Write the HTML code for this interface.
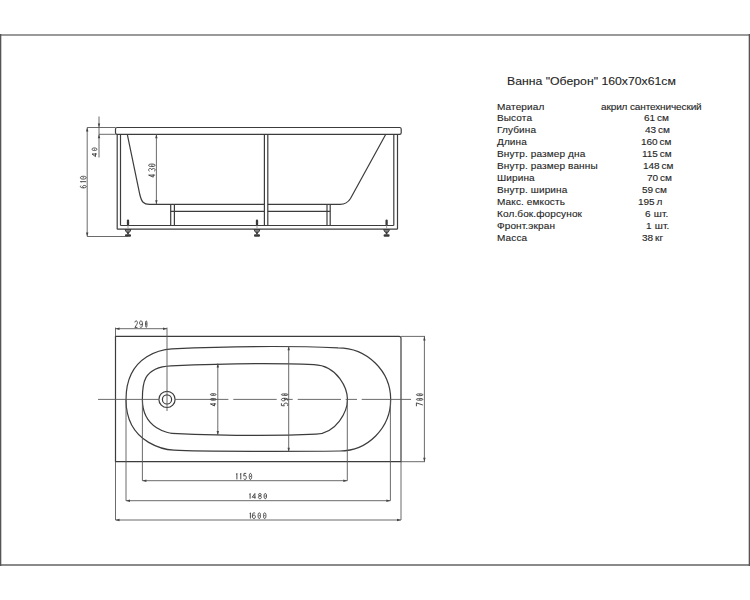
<!DOCTYPE html>
<html><head><meta charset="utf-8"><style>
html,body{margin:0;padding:0;background:#fff;width:750px;height:600px;overflow:hidden}
svg{position:absolute;left:0;top:0}
.o{fill:none;stroke:#3c3c3c;stroke-width:1.2}
.d{fill:none;stroke:#5a5a5a;stroke-width:0.9}
.ar{fill:#444;stroke:none}
.ft{fill:#3a3a3a;stroke:none}
.fo{fill:none;stroke:#3a3a3a;stroke-width:1}
.dt{fill:none;stroke:#444;stroke-width:0.95}
.t{position:absolute;font-family:"Liberation Sans",sans-serif;color:#1c1c1c;white-space:nowrap;line-height:1;-webkit-text-stroke:0.12px #333}
.r{font-size:8.8px;transform:scaleX(1.14);transform-origin:0 0}
.l{letter-spacing:0.1px}
</style></head><body>
<svg width="750" height="600" viewBox="0 0 750 600">
<rect x="0" y="34" width="750" height="2" fill="#9a9a9a"/>
<rect x="0" y="564" width="750" height="2" fill="#8a8a8a"/>
<rect x="0" y="34" width="1.3" height="532" fill="#555"/>
<rect x="748.7" y="34" width="1.3" height="532" fill="#555"/>
<rect class="o" x="115.5" y="127.5" width="285.7" height="6.800000000000011" rx="1.6"/>
<line class="o" x1="117.2" y1="134.3" x2="117.2" y2="229.2"/>
<line class="o" x1="120.5" y1="134.3" x2="120.5" y2="225.5"/>
<line class="o" x1="393.8" y1="134.3" x2="393.8" y2="225.5"/>
<line class="o" x1="397.5" y1="134.3" x2="397.5" y2="229.2"/>
<line class="o" x1="117.2" y1="229.2" x2="397.5" y2="229.2"/>
<line class="o" x1="120.5" y1="225.5" x2="393.8" y2="225.5"/>
<line class="o" x1="264.4" y1="134.3" x2="264.4" y2="225.5"/>
<line class="o" x1="267.8" y1="134.3" x2="267.8" y2="225.5"/>
<line class="o" x1="170.7" y1="204.3" x2="170.7" y2="225.5"/>
<line class="o" x1="174.4" y1="204.3" x2="174.4" y2="225.5"/>
<line class="o" x1="327" y1="204.3" x2="327" y2="225.5"/>
<line class="o" x1="330.2" y1="204.3" x2="330.2" y2="225.5"/>
<line class="o" x1="170.7" y1="211.4" x2="264.4" y2="211.4"/>
<line class="o" x1="267.8" y1="211.4" x2="330.2" y2="211.4"/>
<path class="o" d="M127.3,134.3 L139.8,194.5 C141.6,202 143.5,204.3 149.5,204.3 L264.4,204.3"/>
<path class="o" d="M385.8,134.3 L350.5,198.5 Q347,204.3 340,204.3 L267.8,204.3"/>
<rect class="ft" x="126.85" y="219.6" width="2.3" height="6" rx="1.1"/>
<line x1="128.0" y1="225.5" x2="128.0" y2="229.2" stroke="#999" stroke-width="0.9"/>
<path fill="#8a8a8a" stroke="#333" stroke-width="0.9" d="M125.0,229.6 L131.0,229.6 L129.6,232.2 L126.4,232.2 Z"/>
<rect class="ft" x="127.1" y="232" width="1.8" height="2.4"/>
<rect class="ft" x="125.0" y="234.2" width="6" height="2.6" rx="1"/>
<rect class="ft" x="255.85" y="219.6" width="2.3" height="6" rx="1.1"/>
<line x1="257.0" y1="225.5" x2="257.0" y2="229.2" stroke="#999" stroke-width="0.9"/>
<path fill="#8a8a8a" stroke="#333" stroke-width="0.9" d="M254.0,229.6 L260.0,229.6 L258.6,232.2 L255.4,232.2 Z"/>
<rect class="ft" x="256.1" y="232" width="1.8" height="2.4"/>
<rect class="ft" x="254.0" y="234.2" width="6" height="2.6" rx="1"/>
<rect class="ft" x="385.45000000000005" y="219.6" width="2.3" height="6" rx="1.1"/>
<line x1="386.6" y1="225.5" x2="386.6" y2="229.2" stroke="#999" stroke-width="0.9"/>
<path fill="#8a8a8a" stroke="#333" stroke-width="0.9" d="M383.6,229.6 L389.6,229.6 L388.20000000000005,232.2 L385.0,232.2 Z"/>
<rect class="ft" x="385.70000000000005" y="232" width="1.8" height="2.4"/>
<rect class="ft" x="383.6" y="234.2" width="6" height="2.6" rx="1"/>
<line class="d" x1="87.2" y1="127.5" x2="115.5" y2="127.5"/>
<line class="d" x1="99" y1="134.3" x2="115.5" y2="134.3"/>
<line class="d" x1="99" y1="116.5" x2="99" y2="157.5"/>
<polygon class="ar" points="99,127.5 97.8,123.5 100.2,123.5"/>
<polygon class="ar" points="99,134.3 97.8,138.3 100.2,138.3"/>
<line class="d" x1="87.2" y1="127.5" x2="87.2" y2="236.5"/>
<polygon class="ar" points="87.2,127.5 86.0,131.5 88.4,131.5"/>
<polygon class="ar" points="87.2,236.5 86.0,232.5 88.4,232.5"/>
<line class="d" x1="87.2" y1="236.5" x2="128" y2="236.5"/>
<line class="d" x1="156.4" y1="134.3" x2="156.4" y2="204.3"/>
<polygon class="ar" points="156.4,134.3 155.20000000000002,138.3 157.6,138.3"/>
<polygon class="ar" points="156.4,204.3 155.20000000000002,200.3 157.6,200.3"/>
<path class="o" d="M115.5,336.4 L399,336.4 Q401,336.4 401,338.4 L401,461.7 L115.5,461.7 Z"/>
<path class="o" d="M126,399.5 C126,352.6 166.25,349.12 172,348.8 C226,346.5 285,345.6 338,347.8 C367.1,347.8 390.7,371.0 390.7,399.6 C390.7,428.2 367.5,451.0 340,451.0 C300,451.5 201,451.7 174,450.2 C170.4,450.0 126,446.4 126,399.5 Z"/>
<path class="o" d="M142.4,399.5 C142.4,386.02 141.685,367.1 171,365.8 C216,363.8 269,362.6 314,364.6 C338.29,365.68 347.5,389.1 347.5,399.6 C347.5,411.71 336.475,433.29 316,434.2 C271,436.2 217,435.3 172,433.3 C170.52,433.23 142.4,429.92 142.4,399.5 Z"/>
<circle class="o" cx="167" cy="399.4" r="8.1"/>
<circle class="o" cx="167" cy="399.4" r="4.6"/>
<line class="d" x1="98" y1="399.4" x2="158.8" y2="399.4"/>
<line class="d" x1="175.2" y1="399.4" x2="228.4" y2="399.4"/>
<line class="d" x1="233.3" y1="399.4" x2="276.7" y2="399.4"/>
<line class="d" x1="284" y1="399.4" x2="292.7" y2="399.4"/>
<line class="d" x1="297.7" y1="399.4" x2="341" y2="399.4"/>
<line class="d" x1="345.7" y1="399.4" x2="357" y2="399.4"/>
<line class="d" x1="361.7" y1="399.4" x2="411" y2="399.4"/>
<line class="d" x1="115.5" y1="327.6" x2="115.5" y2="336.4"/>
<line class="d" x1="167" y1="327.6" x2="167" y2="411"/>
<line class="d" x1="115.5" y1="328.7" x2="167" y2="328.7"/>
<polygon class="ar" points="115.5,328.7 119.5,327.5 119.5,329.9"/>
<polygon class="ar" points="167,328.7 163,327.5 163,329.9"/>
<line class="d" x1="217.8" y1="363.5" x2="217.8" y2="434.9"/>
<polygon class="ar" points="217.8,363.5 216.60000000000002,367.5 219.0,367.5"/>
<polygon class="ar" points="217.8,434.9 216.60000000000002,430.9 219.0,430.9"/>
<line class="d" x1="288.7" y1="346.2" x2="288.7" y2="451.7"/>
<polygon class="ar" points="288.7,346.2 287.5,350.2 289.9,350.2"/>
<polygon class="ar" points="288.7,451.7 287.5,447.7 289.9,447.7"/>
<line class="d" x1="401" y1="336.4" x2="425" y2="336.4"/>
<line class="d" x1="401" y1="461.7" x2="425" y2="461.7"/>
<line class="d" x1="424.4" y1="336.4" x2="424.4" y2="461.7"/>
<polygon class="ar" points="424.4,336.4 423.2,340.4 425.59999999999997,340.4"/>
<polygon class="ar" points="424.4,461.7 423.2,457.7 425.59999999999997,457.7"/>
<line class="d" x1="142.4" y1="399.4" x2="142.4" y2="480.7"/>
<line class="d" x1="347.3" y1="399.4" x2="347.3" y2="480.7"/>
<line class="d" x1="142.4" y1="480.7" x2="347.3" y2="480.7"/>
<polygon class="ar" points="142.4,480.7 146.4,479.5 146.4,481.9"/>
<polygon class="ar" points="347.3,480.7 343.3,479.5 343.3,481.9"/>
<line class="d" x1="126" y1="399.4" x2="126" y2="500.7"/>
<line class="d" x1="390.4" y1="399.4" x2="390.4" y2="500.7"/>
<line class="d" x1="126" y1="500.7" x2="390.4" y2="500.7"/>
<polygon class="ar" points="126,500.7 130,499.5 130,501.9"/>
<polygon class="ar" points="390.4,500.7 386.4,499.5 386.4,501.9"/>
<line class="d" x1="115.5" y1="461.7" x2="115.5" y2="520"/>
<line class="d" x1="401" y1="461.7" x2="401" y2="520"/>
<line class="d" x1="115.5" y1="520" x2="401" y2="520"/>
<polygon class="ar" points="115.5,520 119.5,518.8 119.5,521.2"/>
<polygon class="ar" points="401,520 397,518.8 397,521.2"/>
<g class="dt"><path vector-effect="non-scaling-stroke" transform="translate(134.80,320.90) scale(0.675,0.929)" d="M0.1,1.6 C0.2,0.6 1,0 2,0 C3.1,0 3.9,0.7 3.9,1.8 C3.9,3 2.8,4 0.1,7 L3.9,7"/><path vector-effect="non-scaling-stroke" transform="translate(139.50,320.90) scale(0.750,0.929)" d="M0.4,6.4 C0.8,6.8 1.4,7 2,7 C3.3,7 3.9,5.5 3.9,3.2 C3.9,1.2 3.3,0 2,0 C0.8,0 0.1,0.9 0.1,2.2 C0.1,3.5 0.8,4.3 2,4.3 C3,4.3 3.6,3.7 3.9,2.8"/><path vector-effect="non-scaling-stroke" transform="translate(145.50,320.90) scale(0.375,0.929)" d="M2,0 C0.7,0 0.1,1.5 0.1,3.5 C0.1,5.5 0.7,7 2,7 C3.3,7 3.9,5.5 3.9,3.5 C3.9,1.5 3.3,0 2,0 Z M2,2.9 L2,4.1"/></g>
<g class="dt"><path vector-effect="non-scaling-stroke" transform="translate(236.50,473.40) scale(0.400,0.857)" d="M0,1.4 L1,0 L1,7"/><path vector-effect="non-scaling-stroke" transform="translate(240.40,473.40) scale(0.400,0.857)" d="M0,1.4 L1,0 L1,7"/><path vector-effect="non-scaling-stroke" transform="translate(243.60,473.40) scale(0.700,0.857)" d="M3.7,0 L0.6,0 L0.3,3.2 C0.8,2.8 1.4,2.6 2,2.6 C3.2,2.6 3.9,3.5 3.9,4.8 C3.9,6.1 3.2,7 2,7 C1.2,7 0.5,6.7 0.1,6.2"/><path vector-effect="non-scaling-stroke" transform="translate(249.20,473.40) scale(0.625,0.857)" d="M2,0 C0.7,0 0.1,1.5 0.1,3.5 C0.1,5.5 0.7,7 2,7 C3.3,7 3.9,5.5 3.9,3.5 C3.9,1.5 3.3,0 2,0 Z M2,2.9 L2,4.1"/></g>
<g class="dt"><path vector-effect="non-scaling-stroke" transform="translate(249.70,493.50) scale(0.400,0.743)" d="M0,1.4 L1,0 L1,7"/><path vector-effect="non-scaling-stroke" transform="translate(252.10,493.50) scale(0.925,0.743)" d="M3,7 L3,0 L0.1,5 L3.9,5"/><path vector-effect="non-scaling-stroke" transform="translate(258.30,493.50) scale(0.800,0.743)" d="M2,3.3 C0.9,3.3 0.3,2.6 0.3,1.7 C0.3,0.7 1,0 2,0 C3,0 3.7,0.7 3.7,1.7 C3.7,2.6 3.1,3.3 2,3.3 C0.8,3.3 0.1,4.1 0.1,5.1 C0.1,6.2 0.9,7 2,7 C3.1,7 3.9,6.2 3.9,5.1 C3.9,4.1 3.2,3.3 2,3.3 Z"/><path vector-effect="non-scaling-stroke" transform="translate(264.00,493.50) scale(0.650,0.743)" d="M2,0 C0.7,0 0.1,1.5 0.1,3.5 C0.1,5.5 0.7,7 2,7 C3.3,7 3.9,5.5 3.9,3.5 C3.9,1.5 3.3,0 2,0 Z M2,2.9 L2,4.1"/></g>
<g class="dt"><path vector-effect="non-scaling-stroke" transform="translate(250.00,512.80) scale(0.400,0.814)" d="M0,1.4 L1,0 L1,7"/><path vector-effect="non-scaling-stroke" transform="translate(252.30,512.80) scale(0.800,0.814)" d="M3.6,0.6 C3.2,0.2 2.6,0 2,0 C0.7,0 0.1,1.5 0.1,3.8 C0.1,5.8 0.7,7 2,7 C3.2,7 3.9,6.1 3.9,4.8 C3.9,3.5 3.2,2.7 2,2.7 C1,2.7 0.4,3.3 0.1,4.2"/><path vector-effect="non-scaling-stroke" transform="translate(258.00,512.80) scale(0.650,0.814)" d="M2,0 C0.7,0 0.1,1.5 0.1,3.5 C0.1,5.5 0.7,7 2,7 C3.3,7 3.9,5.5 3.9,3.5 C3.9,1.5 3.3,0 2,0 Z M2,2.9 L2,4.1"/><path vector-effect="non-scaling-stroke" transform="translate(263.40,512.80) scale(0.650,0.814)" d="M2,0 C0.7,0 0.1,1.5 0.1,3.5 C0.1,5.5 0.7,7 2,7 C3.3,7 3.9,5.5 3.9,3.5 C3.9,1.5 3.3,0 2,0 Z M2,2.9 L2,4.1"/></g>
<g class="dt"><path vector-effect="non-scaling-stroke" transform="matrix(0,-1,1,0,92.00,156.70) scale(0.900,0.700)" d="M3,7 L3,0 L0.1,5 L3.9,5"/><path vector-effect="non-scaling-stroke" transform="matrix(0,-1,1,0,92.00,150.60) scale(0.675,0.700)" d="M2,0 C0.7,0 0.1,1.5 0.1,3.5 C0.1,5.5 0.7,7 2,7 C3.3,7 3.9,5.5 3.9,3.5 C3.9,1.5 3.3,0 2,0 Z M2,2.9 L2,4.1"/></g>
<g class="dt"><path vector-effect="non-scaling-stroke" transform="matrix(0,-1,1,0,80.40,187.90) scale(0.625,0.829)" d="M3.6,0.6 C3.2,0.2 2.6,0 2,0 C0.7,0 0.1,1.5 0.1,3.8 C0.1,5.8 0.7,7 2,7 C3.2,7 3.9,6.1 3.9,4.8 C3.9,3.5 3.2,2.7 2,2.7 C1,2.7 0.4,3.3 0.1,4.2"/><path vector-effect="non-scaling-stroke" transform="matrix(0,-1,1,0,80.40,182.05) scale(0.400,0.829)" d="M0,1.4 L1,0 L1,7"/><path vector-effect="non-scaling-stroke" transform="matrix(0,-1,1,0,80.40,179.20) scale(0.750,0.829)" d="M2,0 C0.7,0 0.1,1.5 0.1,3.5 C0.1,5.5 0.7,7 2,7 C3.3,7 3.9,5.5 3.9,3.5 C3.9,1.5 3.3,0 2,0 Z M2,2.9 L2,4.1"/></g>
<g class="dt"><path vector-effect="non-scaling-stroke" transform="matrix(0,-1,1,0,148.60,177.20) scale(0.700,0.929)" d="M3,7 L3,0 L0.1,5 L3.9,5"/><path vector-effect="non-scaling-stroke" transform="matrix(0,-1,1,0,148.60,171.35) scale(0.738,0.929)" d="M0.1,0.9 C0.5,0.3 1.2,0 2,0 C3.2,0 3.9,0.7 3.9,1.7 C3.9,2.7 3.1,3.4 1.8,3.4 C3.2,3.4 3.9,4.2 3.9,5.2 C3.9,6.3 3.1,7 2,7 C1.2,7 0.5,6.7 0.1,6.1"/><path vector-effect="non-scaling-stroke" transform="matrix(0,-1,1,0,148.60,166.60) scale(0.650,0.929)" d="M2,0 C0.7,0 0.1,1.5 0.1,3.5 C0.1,5.5 0.7,7 2,7 C3.3,7 3.9,5.5 3.9,3.5 C3.9,1.5 3.3,0 2,0 Z M2,2.9 L2,4.1"/></g>
<g class="dt"><path vector-effect="non-scaling-stroke" transform="matrix(0,-1,1,0,210.40,406.10) scale(0.725,0.814)" d="M3,7 L3,0 L0.1,5 L3.9,5"/><path vector-effect="non-scaling-stroke" transform="matrix(0,-1,1,0,210.40,400.30) scale(0.475,0.814)" d="M2,0 C0.7,0 0.1,1.5 0.1,3.5 C0.1,5.5 0.7,7 2,7 C3.3,7 3.9,5.5 3.9,3.5 C3.9,1.5 3.3,0 2,0 Z M2,2.9 L2,4.1"/><path vector-effect="non-scaling-stroke" transform="matrix(0,-1,1,0,210.40,395.50) scale(0.475,0.814)" d="M2,0 C0.7,0 0.1,1.5 0.1,3.5 C0.1,5.5 0.7,7 2,7 C3.3,7 3.9,5.5 3.9,3.5 C3.9,1.5 3.3,0 2,0 Z M2,2.9 L2,4.1"/></g>
<g class="dt"><path vector-effect="non-scaling-stroke" transform="matrix(0,-1,1,0,281.40,406.10) scale(0.775,0.929)" d="M3.7,0 L0.6,0 L0.3,3.2 C0.8,2.8 1.4,2.6 2,2.6 C3.2,2.6 3.9,3.5 3.9,4.8 C3.9,6.1 3.2,7 2,7 C1.2,7 0.5,6.7 0.1,6.2"/><path vector-effect="non-scaling-stroke" transform="matrix(0,-1,1,0,281.40,400.90) scale(0.675,0.929)" d="M0.4,6.4 C0.8,6.8 1.4,7 2,7 C3.3,7 3.9,5.5 3.9,3.2 C3.9,1.2 3.3,0 2,0 C0.8,0 0.1,0.9 0.1,2.2 C0.1,3.5 0.8,4.3 2,4.3 C3,4.3 3.6,3.7 3.9,2.8"/><path vector-effect="non-scaling-stroke" transform="matrix(0,-1,1,0,281.40,395.50) scale(0.425,0.929)" d="M2,0 C0.7,0 0.1,1.5 0.1,3.5 C0.1,5.5 0.7,7 2,7 C3.3,7 3.9,5.5 3.9,3.5 C3.9,1.5 3.3,0 2,0 Z M2,2.9 L2,4.1"/></g>
<g class="dt"><path vector-effect="non-scaling-stroke" transform="matrix(0,-1,1,0,416.40,406.35) scale(0.888,0.929)" d="M0.1,0 L3.9,0 L1.5,7"/><path vector-effect="non-scaling-stroke" transform="matrix(0,-1,1,0,416.40,400.30) scale(0.475,0.929)" d="M2,0 C0.7,0 0.1,1.5 0.1,3.5 C0.1,5.5 0.7,7 2,7 C3.3,7 3.9,5.5 3.9,3.5 C3.9,1.5 3.3,0 2,0 Z M2,2.9 L2,4.1"/><path vector-effect="non-scaling-stroke" transform="matrix(0,-1,1,0,416.40,395.70) scale(0.475,0.929)" d="M2,0 C0.7,0 0.1,1.5 0.1,3.5 C0.1,5.5 0.7,7 2,7 C3.3,7 3.9,5.5 3.9,3.5 C3.9,1.5 3.3,0 2,0 Z M2,2.9 L2,4.1"/></g>
</svg>
<div class="t" style="left:507.0px;top:74.6px;font-size:11.6px;transform:scaleX(1.056);transform-origin:0 0">Ванна "Оберон" 160x70x61см</div><div class="t r l" style="left:497.3px;top:102.50px">Материал</div><div class="t r v" style="left:600.80px;top:102.50px;letter-spacing:-0.12px;">акрил сантехнический</div><div class="t r l" style="left:497.3px;top:114.43px">Высота</div><div class="t r v" style="left:644.40px;top:114.43px;letter-spacing:-0.05px;word-spacing:-0.6px;">61 см</div><div class="t r l" style="left:497.3px;top:126.36px">Глубина</div><div class="t r v" style="left:644.80px;top:126.36px;letter-spacing:-0.05px;word-spacing:-0.6px;">43 см</div><div class="t r l" style="left:497.3px;top:138.29px">Длина</div><div class="t r v" style="left:640.90px;top:138.29px;letter-spacing:-0.05px;word-spacing:-0.6px;">160 см</div><div class="t r l" style="left:497.3px;top:150.22px">Внутр. размер дна</div><div class="t r v" style="left:641.70px;top:150.22px;letter-spacing:-0.05px;word-spacing:-0.6px;">115 см</div><div class="t r l" style="left:497.3px;top:162.15px">Внутр. размер ванны</div><div class="t r v" style="left:643.00px;top:162.15px;letter-spacing:-0.05px;word-spacing:-0.6px;">148 см</div><div class="t r l" style="left:497.3px;top:174.08px">Ширина</div><div class="t r v" style="left:646.60px;top:174.08px;letter-spacing:-0.05px;word-spacing:-0.6px;">70 см</div><div class="t r l" style="left:497.3px;top:186.01px">Внутр. ширина</div><div class="t r v" style="left:642.20px;top:186.01px;letter-spacing:-0.05px;word-spacing:-0.6px;">59 см</div><div class="t r l" style="left:497.3px;top:197.94px">Макс. емкость</div><div class="t r v" style="left:637.80px;top:197.94px;letter-spacing:-0.05px;word-spacing:-0.6px;">195 л</div><div class="t r l" style="left:497.3px;top:209.87px">Кол.бок.форсунок</div><div class="t r v" style="left:645.00px;top:209.87px;letter-spacing:0.15px;">6 шт.</div><div class="t r l" style="left:497.3px;top:221.80px">Фронт.экран</div><div class="t r v" style="left:645.65px;top:221.80px;letter-spacing:0.15px;">1 шт.</div><div class="t r l" style="left:497.3px;top:233.73px">Масса</div><div class="t r v" style="left:642.20px;top:233.73px;letter-spacing:-0.05px;word-spacing:-0.6px;">38 кг</div>
</body></html>
